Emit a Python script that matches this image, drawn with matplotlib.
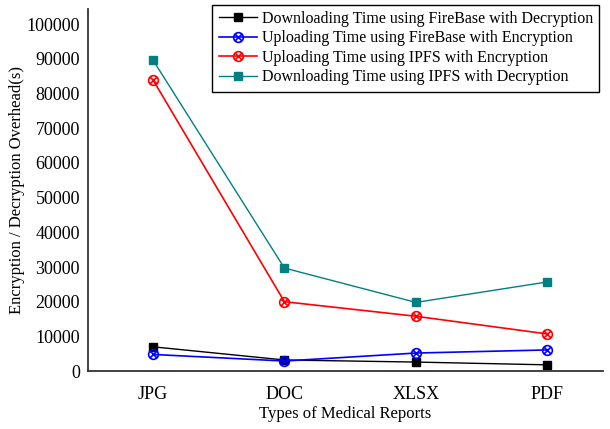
import matplotlib.pyplot as plt
import numpy as np
from matplotlib.path import Path

plt.rcParams['font.family'] = ['Liberation Serif', 'DejaVu Serif']

reports = ['JPG', 'DOC', 'XLSX', 'PDF']
fb_download = [7000, 3200, 2600, 1800]
fb_upload = [4800, 2900, 5200, 6100]
ipfs_upload = [84000, 20000, 15800, 10700]
ipfs_download = [89700, 29700, 19800, 25700]
yticks = [0, 10000, 20000, 30000, 40000, 50000, 60000, 70000, 80000, 90000, 100000]

# circle with a cross inside
circ = Path.unit_circle()
s = np.sqrt(0.5)
cross = Path([(-s, -s), (s, s), (-s, s), (s, -s)],
             [Path.MOVETO, Path.LINETO, Path.MOVETO, Path.LINETO])
otimes = Path.make_compound_path(circ, cross)

fig = plt.figure(figsize=(6.10, 4.29), dpi=100)
ax = fig.add_axes([0.145, 0.135, 0.843, 0.845])
x = np.arange(len(reports))

ax.plot(x, fb_download, color='black', lw=1, marker='s', ms=6,
        label='Downloading Time using FireBase with Decryption')
ax.plot(x, fb_upload, color='blue', lw=1.2, marker=otimes, ms=7, mfc='none', mew=1.2,
        label='Uploading Time using FireBase with Encryption')
ax.plot(x, ipfs_upload, color='red', lw=1.2, marker=otimes, ms=7, mfc='none', mew=1.2,
        label='Uploading Time using IPFS with Encryption')
ax.plot(x, ipfs_download, color='#008080', lw=1, marker='s', ms=6,
        label='Downloading Time using IPFS with Decryption')

ax.set_xlim(-0.49, 3.42)
ax.set_ylim(0, 104500)
ax.set_xticks(x)
ax.set_xticklabels(reports, fontsize=13)
ax.set_yticks(yticks)
ax.set_yticklabels([str(v) for v in yticks], fontsize=13)
ax.tick_params(axis='y', length=0, pad=6)
ax.tick_params(axis='x', length=0, pad=11)
ax.spines['top'].set_visible(False)
ax.spines['right'].set_visible(False)
ax.spines['left'].set_linewidth(1.3)
ax.spines['bottom'].set_linewidth(1.3)
ax.spines['left'].set_color('#333333')
ax.spines['bottom'].set_color('#333333')
ax.set_xlabel('Types of Medical Reports', fontsize=12, labelpad=2)
ax.set_ylabel('Encryption / Decryption Overhead(s)', fontsize=12, labelpad=1)

leg = ax.legend(loc='upper right', bbox_to_anchor=(1.0, 1.02), fontsize=11.5,
                fancybox=False, framealpha=1, edgecolor='black',
                borderpad=0.4, labelspacing=0.22, handlelength=2.4,
                handletextpad=0.3, borderaxespad=0.2)
leg.get_frame().set_linewidth(1)

fig.savefig('out.png', dpi=100)
